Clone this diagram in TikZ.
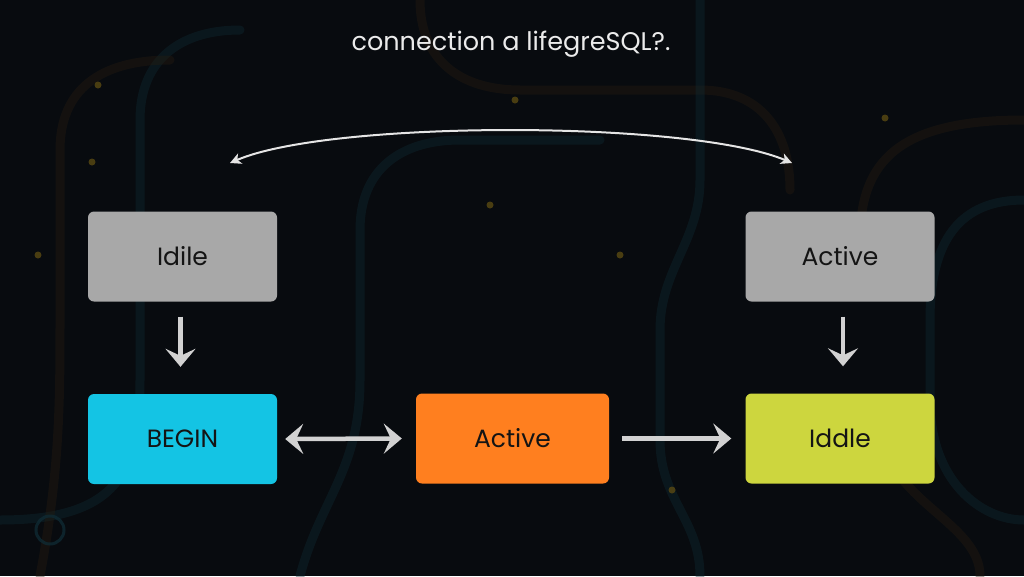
\documentclass[tikz,border=0pt]{standalone}
\usepackage{fontspec}
\setmainfont{Poppins}
\usetikzlibrary{arrows.meta}
\definecolor{bg}{HTML}{080B0F}
\definecolor{boxgray}{HTML}{A8A8A8}
\definecolor{boxcyan}{HTML}{14C4E4}
\definecolor{boxorange}{HTML}{FF7F1F}
\definecolor{boxlime}{HTML}{CDD63E}
\definecolor{arrowgray}{HTML}{D2D2D2}
\definecolor{tracecyan}{HTML}{0F2A33}
\definecolor{tracebrown}{HTML}{261C10}
\definecolor{dotyellow}{HTML}{5A4A12}
\tikzset{
  statebox/.style={rectangle, rounded corners=6pt, minimum width=189pt, minimum height=90pt,
    inner sep=0pt, font=\fontsize{25}{30}\selectfont, text=black!92},
  bigarrow/.style={draw=arrowgray, line width=4.5pt,
    -{Stealth[length=18pt,width=30pt,inset=7pt]}},
  bigdarrow/.style={draw=arrowgray, line width=4.5pt,
    {Stealth[length=18pt,width=30pt,inset=7pt]}-{Stealth[length=18pt,width=30pt,inset=7pt]}},
  trace/.style={line width=9pt, line cap=round, opacity=0.4},
  glow/.style={circle, fill=dotyellow, minimum size=7pt, inner sep=0pt, opacity=0.8}
}
\begin{document}
\begin{tikzpicture}[x=1pt,y=-1pt]
\fill[bg] (0,0) rectangle (1024,576);
\useasboundingbox (0,0) rectangle (1024,576);
% faint background circuit traces
\begin{scope}
\draw[trace, tracecyan] (0,520) .. controls (120,520) and (140,470) .. (140,380) -- (140,120) .. controls (140,60) and (180,30) .. (240,30);
\draw[trace, tracebrown] (40,576) .. controls (60,470) and (60,400) .. (60,320) -- (60,150) .. controls (60,90) and (100,60) .. (170,60);
\draw[trace, tracecyan] (300,576) .. controls (320,500) and (360,470) .. (360,380) -- (360,230) .. controls (360,170) and (400,140) .. (460,140) -- (600,140);
\draw[trace, tracebrown] (420,0) .. controls (420,60) and (460,90) .. (520,90) -- (700,90) .. controls (760,90) and (790,130) .. (790,190);
\draw[trace, tracecyan] (1024,200) .. controls (960,200) and (930,240) .. (930,320) -- (930,400) .. controls (930,480) and (980,520) .. (1024,520);
\draw[trace, tracecyan] (700,576) .. controls (700,520) and (660,500) .. (660,440) -- (660,330) .. controls (660,270) and (700,240) .. (700,180) -- (700,0);
\draw[trace, tracebrown] (1024,120) .. controls (900,120) and (860,160) .. (860,240);
\draw[trace, tracebrown] (980,576) .. controls (980,520) and (880,500) .. (880,420);
\draw[tracecyan, line width=3pt, opacity=0.8] (50,530) circle (14pt);
\end{scope}
\node[glow] (g1) at (98,85) {};
\node[glow] (g2) at (515,100) {};
\node[glow] (g3) at (490,205) {};
\node[glow] (g4) at (38,255) {};
\node[glow] (g5) at (672,490) {};
\node[glow] (g6) at (885,118) {};
\node[glow] (g7) at (92,162) {};
\node[glow] (g8) at (620,255) {};
% title
\node[text=white!92!black, font=\fontsize{25.5}{30}\selectfont] (title) at (511,44) {connection a lifegreSQL?.};
% boxes
\node[statebox, fill=boxgray] (idile) at (182.5,256.5) {Idile};
\node[statebox, fill=boxgray] (active1) at (840,256.5) {Active};
\node[statebox, fill=boxcyan] (begin) at (182.5,439) {BEGIN};
\node[statebox, fill=boxorange, minimum width=193pt] (active2) at (512.5,438.5) {Active};
\node[statebox, fill=boxlime] (iddle) at (840,438.5) {Iddle};
% arrows
\draw[bigarrow] ([xshift=-2pt,yshift=-15pt]idile.south) -- ([xshift=-2pt,yshift=27pt]begin.north);
\draw[bigarrow] ([xshift=3pt,yshift=-15pt]active1.south) -- ([xshift=3pt,yshift=27pt]iddle.north);
\draw[bigdarrow] ([xshift=8pt]begin.east) -- ([xshift=-14pt]active2.west);
\draw[bigarrow] ([xshift=13pt]active2.east) -- ([xshift=-14pt]iddle.west);
% top curved connector
\coordinate (tl) at (230,163);
\coordinate (tr) at (792,163);
\draw[white!90!black, line width=2pt, {Stealth[length=11pt,width=11pt,inset=3pt]}-{Stealth[length=11pt,width=11pt,inset=3pt]}]
  (tl) .. controls (330,120) and (690,120) .. (tr);
\end{tikzpicture}
\end{document}
